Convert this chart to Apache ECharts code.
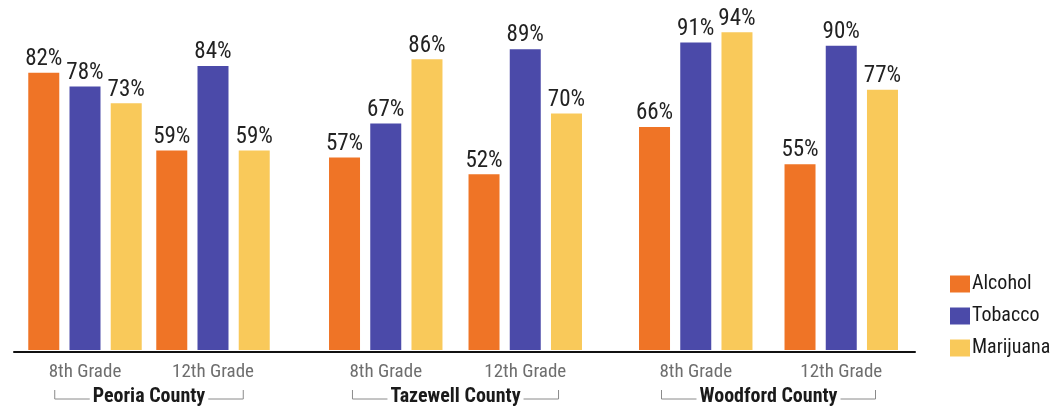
<!DOCTYPE html>
<html>
<head>
<meta charset="utf-8">
<script src="https://cdn.jsdelivr.net/npm/echarts@6/dist/echarts.min.js"></script>
<style>
  html, body { margin: 0; padding: 0; background: #ffffff; }
  #chart { width: 1051px; height: 412px; }
</style>
</head>
<body>
<div id="chart"></div>
<script>
// Survey results by county and grade (percent)
const counties = ['Peoria County', 'Tazewell County', 'Woodford County'];
const grades = ['8th Grade', '12th Grade'];
const substances = ['Alcohol', 'Tobacco', 'Marijuana'];
const alcohol = [[82, 59], [57, 52], [66, 55]];
const tobacco = [[78, 84], [67, 89], [91, 90]];
const marijuana = [[73, 59], [86, 70], [94, 77]];

const colors = { Alcohol: '#ef7426', Tobacco: '#4b4aa9', Marijuana: '#f9c95a' };
const FONT = '"Roboto Condensed", "Liberation Sans Narrow", Roboto, sans-serif';
const COUNTY_SIZE = 20;

// each county gets its own grid so the spacing between groups can vary
const gridBoxes = [
  { left: 21, width: 256 },
  { left: 316, width: 279 },
  { left: 623, width: 291 }
];
const TOP = 12, BOTTOM = 60;

const grid = [{ left: 14, right: 136, top: TOP, bottom: BOTTOM }];
const xAxis = [{
  gridIndex: 0, type: 'category', data: [''],
  axisLine: { lineStyle: { color: '#111', width: 2 } },
  axisTick: { show: false }, axisLabel: { show: false }
}];
const yAxis = [{ gridIndex: 0, type: 'value', min: 0, max: 100, show: false }];
const series = [];
const valuesBySubstance = { Alcohol: alcohol, Tobacco: tobacco, Marijuana: marijuana };

counties.forEach((county, i) => {
  const g = i + 1;
  grid.push({ left: gridBoxes[i].left, width: gridBoxes[i].width, top: TOP, bottom: BOTTOM });
  xAxis.push({
    gridIndex: g, type: 'category', data: grades,
    axisLine: { show: false }, axisTick: { show: false },
    axisLabel: { color: '#6e6e6e', fontSize: 19, fontFamily: FONT, margin: 13 },
    name: county, nameLocation: 'middle', nameGap: 34,
    nameTextStyle: { color: '#1a1a1a', fontSize: COUNTY_SIZE, fontFamily: FONT, fontWeight: 'bold' }
  });
  yAxis.push({ gridIndex: g, type: 'value', min: 0, max: 100, show: false, splitLine: { show: false } });
  substances.forEach(name => {
    series.push({
      name, type: 'bar', xAxisIndex: g, yAxisIndex: g,
      data: valuesBySubstance[name][i],
      barWidth: 31, barGap: '33%',
      itemStyle: { color: colors[name] },
      label: {
        show: true, position: 'top', distance: 2,
        formatter: p => p.value + '%',
        color: '#222', fontSize: 23, fontFamily: FONT
      }
    });
  });
});

const chart = echarts.init(document.getElementById('chart'), null, { renderer: 'canvas' });
chart.setOption({
  animation: false,
  grid, xAxis, yAxis, series,
  legend: {
    data: substances, orient: 'vertical', left: 945, top: 269,
    icon: 'rect', itemWidth: 20, itemHeight: 17, itemGap: 12,
    textStyle: { color: '#1a1a1a', fontSize: 20, fontFamily: FONT, padding: [0, 0, 0, -3] }
  }
});

// brackets under the grade labels, framing each county name
const measure = document.createElement('canvas').getContext('2d');
measure.font = 'bold ' + COUNTY_SIZE + 'px ' + FONT;
const brackets = [];
counties.forEach((county, i) => {
  const g = i + 1;
  const x8 = chart.convertToPixel({ xAxisIndex: g }, grades[0]);
  const x12 = chart.convertToPixel({ xAxisIndex: g }, grades[1]);
  const mid = (x8 + x12) / 2;
  const half = measure.measureText(county).width / 2;
  const y = 399, yTop = 390;
  const x0 = mid - half - 38, x1 = mid + half + 38;
  const style = { stroke: '#8a8a8a', lineWidth: 1, fill: null };
  brackets.push({ type: 'polyline', silent: true, shape: { points: [[x0, yTop], [x0, y], [mid - half - 3, y]] }, style });
  brackets.push({ type: 'polyline', silent: true, shape: { points: [[mid + half + 3, y], [x1, y], [x1, yTop]] }, style });
});
chart.setOption({ graphic: brackets });
</script>
</body>
</html>
